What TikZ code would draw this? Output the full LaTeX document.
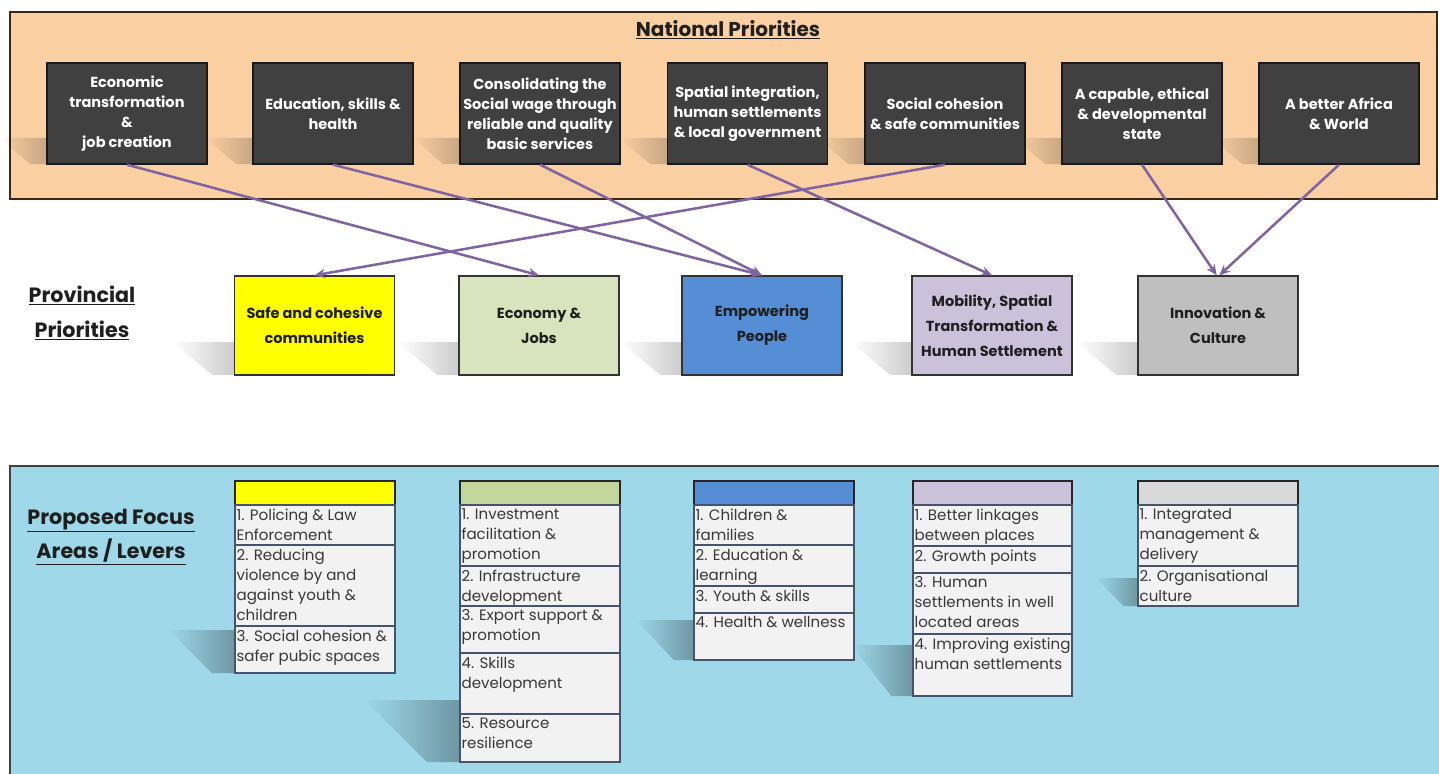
\documentclass[tikz,border=0pt]{standalone}
\usepackage{fontspec}
\setmainfont{Poppins}
\usetikzlibrary{arrows.meta,fadings}
\definecolor{peach}{HTML}{FAD0A3}
\definecolor{skyb}{HTML}{9ED8E9}
\definecolor{darkbox}{HTML}{404040}
\definecolor{arrowc}{HTML}{8064A2}
\definecolor{pyellow}{HTML}{FFFF00}
\definecolor{pgreen}{HTML}{D7E4BD}
\definecolor{pblue}{HTML}{558ED5}
\definecolor{plav}{HTML}{CCC1DA}
\definecolor{pgray}{HTML}{BFBFBF}
\definecolor{hgreen}{HTML}{C3D69B}
\definecolor{hgray}{HTML}{D9D9D9}
\definecolor{rowfill}{HTML}{F2F2F2}
\definecolor{rowline}{HTML}{44546A}
\definecolor{labeltext}{HTML}{1F1F1F}
\newcommand\mkshadow[5]{\fill[black,opacity=#5,path fading=west] (#1-#4,#2) -- (#1,#2) -- (#1,#3) -- (#1-0.35*#4,#3) -- cycle;}
\begin{document}
\begin{tikzpicture}[x=0.75pt,y=-0.75pt,
  natbox/.style={draw=black!90,line width=1pt,fill=darkbox,text=white,align=center,
    minimum width=120pt,minimum height=75.75pt,inner sep=0pt,
    font=\bfseries\fontsize{10.9}{15}\selectfont},
  provbox/.style={draw=black!80,line width=1pt,align=center,text=labeltext,
    minimum width=120pt,minimum height=74.25pt,inner sep=0pt,
    font=\bfseries\fontsize{10.9}{18.75}\selectfont},
  arr/.style={draw=arrowc,line width=1.9pt,-{Stealth[length=8pt,width=7pt]}},
  sectitle/.style={font=\bfseries\fontsize{15.5}{26}\selectfont,text=labeltext,align=center,inner sep=0pt},
  rowbox/.style={draw=rowline,line width=0.8pt,fill=rowfill},
  headbox/.style={draw=black!85,line width=1pt},
  rowtext/.style={anchor=north west,align=left,inner xsep=1pt,inner ysep=2.5pt,text=black!78,
    font=\fontsize{11.3}{15}\selectfont}]
\useasboundingbox (0,0) rectangle (1439,774);
% bands
\fill[peach] (10,12) rectangle (1437,199);
\draw[black!70!brown,line width=1.2pt] (10,12) rectangle (1437,199);
\fill[skyb] (10,466) rectangle (1439,774);
\draw[black!75,line width=1.2pt] (10,774) -- (10,466) -- (1439,466);
% titles
\node[sectitle,font=\bfseries\fontsize{15}{26}\selectfont] (tnat) at (728,30) {\underline{National Priorities}};
\node[sectitle] (tprov) at (82,313) {\underline{Provincial}\\\underline{Priorities}};
\node[sectitle] (tfoc) at (111,537) {\underline{Proposed Focus}\\\underline{Areas / Levers}};
% shadows top
\foreach \xx in {47,253,460,667,865,1062,1259} {\mkshadow{\xx}{138}{164}{48}{0.2}}
% national boxes
\node[natbox] (n1) at (127,113.5) {Economic\\transformation\\\&\\job creation};
\node[natbox] (n2) at (333,113.5) {Education, skills \&\\health};
\node[natbox] (n3) at (540,113.5) {Consolidating the\\Social wage through\\reliable and quality\\basic services};
\node[natbox] (n4) at (747.5,113.5) {Spatial integration,\\human settlements\\\& local government};
\node[natbox] (n5) at (945,113.5) {Social cohesion\\\& safe communities};
\node[natbox] (n6) at (1142,113.5) {A capable, ethical\\\& developmental\\state};
\node[natbox] (n7) at (1339,113.5) {A better Africa\\\& World};
% shadows provincial
\foreach \xx in {234,459,682,912,1138} {\mkshadow{\xx}{342}{375}{62}{0.2}}
% provincial boxes
\node[provbox,fill=pyellow] (p1) at (314.5,325.5) {Safe and cohesive\\communities};
\node[provbox,fill=pgreen] (p2) at (539,325.5) {Economy \&\\Jobs};
\node[provbox,fill=pblue] (p3) at (762,325.5) {Empowering\\People};
\node[provbox,fill=plav] (p4) at (992,325.5) {Mobility, Spatial\\Transformation \&\\Human Settlement};
\node[provbox,fill=pgray] (p5) at (1218,325.5) {Innovation \&\\Culture};
% arrows
\draw[arr] (n1.south) -- (p2.north);
\draw[arr] (n2.south) -- (p3.north);
\draw[arr] (n3.south) -- (p3.north);
\draw[arr] (n4.south) -- (p4.north);
\draw[arr] (n5.south) -- (p1.north);
\draw[arr] (n6.south) -- ([xshift=-1pt]p5.north);
\draw[arr] (n7.south) -- ([xshift=1pt]p5.north);
% focus shadows
\mkshadow{235}{630}{673}{66}{0.3}
\mkshadow{460}{700}{762}{95}{0.3}
\mkshadow{694}{620}{660}{58}{0.3}
\mkshadow{913}{645}{696}{62}{0.3}
\mkshadow{1138}{578}{606}{42}{0.3}
% table 1
\draw[headbox,fill=pyellow] (235,481) rectangle (395,505);
\draw[rowbox] (235,505) rectangle (395,545);
\node[rowtext] (a1) at (235,505) {1. Policing \& Law\\Enforcement};
\draw[rowbox] (235,545) rectangle (395,626);
\node[rowtext] (a2) at (235,545) {2. Reducing\\violence by and\\against youth \&\\children};
\draw[rowbox] (235,626) rectangle (395,673);
\node[rowtext] (a3) at (235,626) {3. Social cohesion \&\\safer pubic spaces};
% table 2
\draw[headbox,fill=hgreen] (460,481) rectangle (620,505);
\draw[rowbox] (460,505) rectangle (620,566);
\node[rowtext] (b1) at (460,505) {1. Investment\\facilitation \&\\promotion};
\draw[rowbox] (460,566) rectangle (620,606);
\node[rowtext] (b2) at (460,566) {2. Infrastructure\\development};
\draw[rowbox] (460,606) rectangle (620,653);
\node[rowtext] (b3) at (460,606) {3. Export support \&\\promotion};
\draw[rowbox] (460,653) rectangle (620,714);
\node[rowtext] (b4) at (460,653) {4. Skills\\development};
\draw[rowbox] (460,714) rectangle (620,762);
\node[rowtext] (b5) at (460,714) {5. Resource\\resilience};
% table 3
\draw[headbox,fill=pblue] (694,481) rectangle (854,505);
\draw[rowbox] (694,505) rectangle (854,545);
\node[rowtext] (c1) at (694,505) {1. Children \&\\families};
\draw[rowbox] (694,545) rectangle (854,586);
\node[rowtext] (c2) at (694,545) {2. Education \&\\learning};
\draw[rowbox] (694,586) rectangle (854,613);
\node[rowtext] (c3) at (694,586) {3. Youth \& skills};
\draw[rowbox] (694,613) rectangle (854,660);
\node[rowtext] (c4) at (694,613) {4. Health \& wellness};
% table 4
\draw[headbox,fill=plav] (913,481) rectangle (1072,505);
\draw[rowbox] (913,505) rectangle (1072,546);
\node[rowtext] (d1) at (913,505) {1. Better linkages\\between places};
\draw[rowbox] (913,546) rectangle (1072,573);
\node[rowtext] (d2) at (913,546) {2. Growth points};
\draw[rowbox] (913,573) rectangle (1072,634);
\node[rowtext] (d3) at (913,573) {3. Human\\settlements in well\\located areas};
\draw[rowbox] (913,634) rectangle (1072,696);
\node[rowtext] (d4) at (913,634) {4. Improving existing\\human settlements};
% table 5
\draw[headbox,fill=hgray] (1138,481) rectangle (1298,505);
\draw[rowbox] (1138,505) rectangle (1298,566);
\node[rowtext] (e1) at (1138,505) {1. Integrated\\management \&\\delivery};
\draw[rowbox] (1138,566) rectangle (1298,606);
\node[rowtext] (e2) at (1138,566) {2. Organisational\\culture};
\end{tikzpicture}
\end{document}
